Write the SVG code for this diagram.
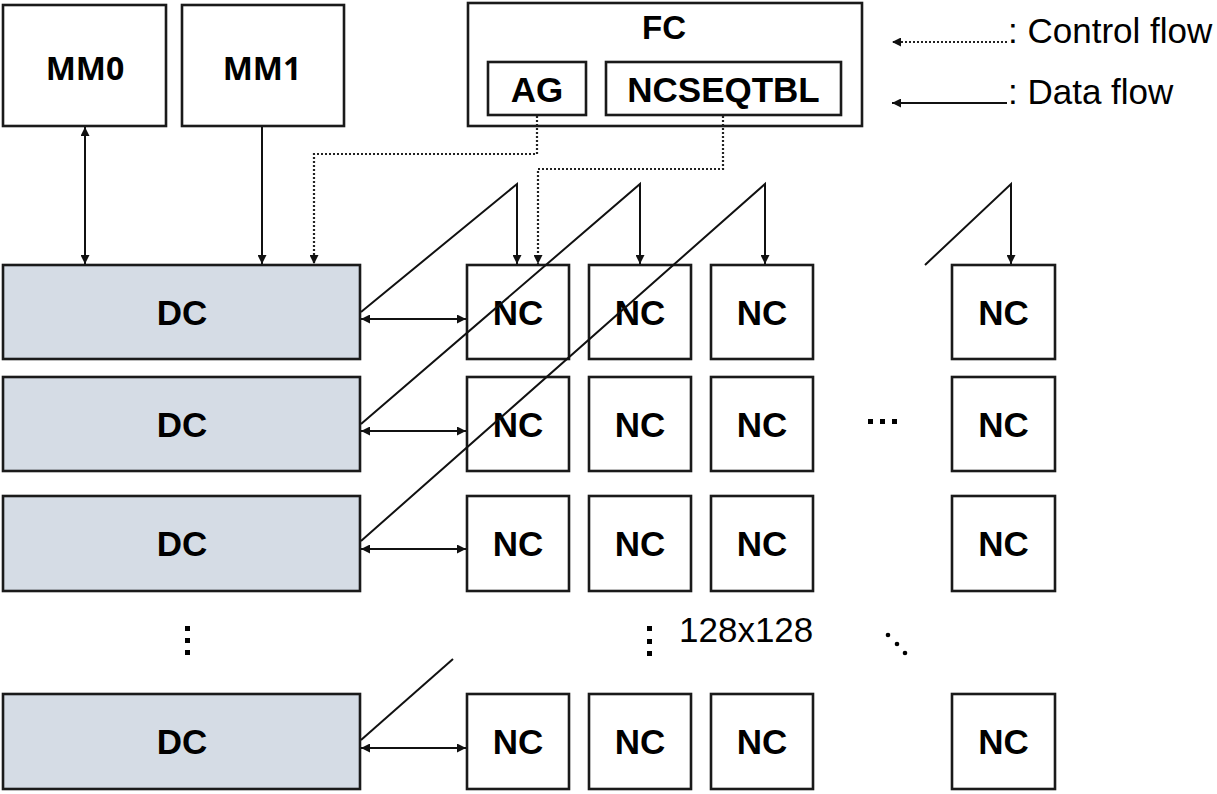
<svg xmlns="http://www.w3.org/2000/svg" width="1217" height="794" viewBox="0 0 1217 794">
<defs>
<marker id="ah" viewBox="0 0 10 10" refX="10" refY="5" markerWidth="10" markerHeight="9" markerUnits="userSpaceOnUse" orient="auto-start-reverse">
<path d="M0,0 L10,5 L0,10 z" fill="#111"/>
</marker>
</defs>
<style>
.box{fill:#fff;stroke:#1a1a1a;stroke-width:2.6}
.dc{fill:#d5dce5;stroke:#1a1a1a;stroke-width:2.6}
.lbl{font-family:"Liberation Sans",Arial,sans-serif;font-weight:bold;font-size:35px;fill:#000;text-anchor:middle}
.mm{font-family:"Open Sans","Liberation Sans",sans-serif;font-weight:bold;font-size:32px;fill:#000;text-anchor:middle}
.reg{font-family:"Liberation Sans",Arial,sans-serif;font-size:35px;fill:#000}
.ln{fill:none;stroke:#111;stroke-width:2}
.ar{fill:none;stroke:#111;stroke-width:2;marker-end:url(#ah)}
.bi{fill:none;stroke:#111;stroke-width:2;marker-start:url(#ah);marker-end:url(#ah)}
.dot{fill:none;stroke:#222;stroke-width:2.2;stroke-dasharray:2 2;marker-end:url(#ah)}
.d{fill:#000}
</style>
<rect width="1217" height="794" fill="#fff"/>

<g id="MM0"><rect class="box" x="3" y="5" width="163" height="121"/><text class="mm" x="85" y="80">MM0</text></g>
<g id="MM1"><rect class="box" x="182" y="5" width="162" height="121"/><text class="mm" x="262" y="80">MM1</text></g>
<g id="FC"><rect class="box" x="468" y="3" width="394" height="123"/><text class="lbl" x="664" y="39" style="font-size:33px">FC</text></g>
<g id="AG"><rect class="box" x="488" y="62" width="98" height="53"/><text class="lbl" x="537" y="102">AG</text></g>
<g id="NCSEQTBL"><rect class="box" x="606" y="62" width="235" height="53"/><text class="lbl" x="723.5" y="102">NCSEQTBL</text></g>

<g id="DC0"><rect class="dc" x="3" y="265" width="357" height="94"/><text class="lbl" x="182" y="325">DC</text></g>
<g id="DC1"><rect class="dc" x="3" y="377" width="357" height="94"/><text class="lbl" x="182" y="437">DC</text></g>
<g id="DC2"><rect class="dc" x="3" y="496" width="357" height="95"/><text class="lbl" x="182" y="556">DC</text></g>
<g id="DCn"><rect class="dc" x="3" y="694" width="357" height="95"/><text class="lbl" x="182" y="754">DC</text></g>

<g id="NC00"><rect class="box" x="467" y="265" width="102" height="94"/><text class="lbl" x="518" y="325">NC</text></g>
<g id="NC01"><rect class="box" x="589" y="265" width="102" height="94"/><text class="lbl" x="640" y="325">NC</text></g>
<g id="NC02"><rect class="box" x="711" y="265" width="102" height="94"/><text class="lbl" x="762" y="325">NC</text></g>
<g id="NC0n"><rect class="box" x="952" y="265" width="103" height="94"/><text class="lbl" x="1003.5" y="325">NC</text></g>

<g id="NC10"><rect class="box" x="467" y="377" width="102" height="94"/><text class="lbl" x="518" y="437">NC</text></g>
<g id="NC11"><rect class="box" x="589" y="377" width="102" height="94"/><text class="lbl" x="640" y="437">NC</text></g>
<g id="NC12"><rect class="box" x="711" y="377" width="102" height="94"/><text class="lbl" x="762" y="437">NC</text></g>
<g id="NC1n"><rect class="box" x="952" y="377" width="103" height="94"/><text class="lbl" x="1003.5" y="437">NC</text></g>

<g id="NC20"><rect class="box" x="467" y="496" width="102" height="95"/><text class="lbl" x="518" y="556">NC</text></g>
<g id="NC21"><rect class="box" x="589" y="496" width="102" height="95"/><text class="lbl" x="640" y="556">NC</text></g>
<g id="NC22"><rect class="box" x="711" y="496" width="102" height="95"/><text class="lbl" x="762" y="556">NC</text></g>
<g id="NC2n"><rect class="box" x="952" y="496" width="103" height="95"/><text class="lbl" x="1003.5" y="556">NC</text></g>

<g id="NCn0"><rect class="box" x="467" y="694" width="102" height="95"/><text class="lbl" x="518" y="754">NC</text></g>
<g id="NCn1"><rect class="box" x="589" y="694" width="102" height="95"/><text class="lbl" x="640" y="754">NC</text></g>
<g id="NCn2"><rect class="box" x="711" y="694" width="102" height="95"/><text class="lbl" x="762" y="754">NC</text></g>
<g id="NCnn"><rect class="box" x="952" y="694" width="103" height="95"/><text class="lbl" x="1003.5" y="754">NC</text></g>

<g id="connectors">
<line class="bi" x1="85" y1="127" x2="85" y2="264"/>
<line class="ar" x1="262" y1="127" x2="262" y2="264"/>
<polyline class="dot" points="537,116 537,154 314,154 314,264"/>
<polyline class="dot" points="723,116 723,169 538,169 538,264"/>

<line class="bi" x1="361" y1="319" x2="466" y2="319"/>
<line class="bi" x1="361" y1="431" x2="466" y2="431"/>
<line class="bi" x1="361" y1="549" x2="466" y2="549"/>
<line class="bi" x1="361" y1="748" x2="466" y2="748"/>

<polyline class="ar" points="361,312 517,184 517,264"/>
<polyline class="ar" points="361,424 640,184 640,264"/>
<polyline class="ar" points="361,541 765,184 765,264"/>
<polyline class="ar" points="925,265 1011,184 1011,264"/>
<line class="ln" x1="361" y1="740" x2="453" y2="659"/>
</g>

<g id="legend">
<line class="dot" x1="1007" y1="42" x2="892" y2="42"/>
<text class="reg" x="1008" y="43">: Control flow</text>
<line class="ar" x1="1007" y1="103" x2="892" y2="103"/>
<text class="reg" x="1008" y="104">: Data flow</text>
</g>

<g id="dots">
<rect class="d" x="185" y="626" width="5" height="5"/>
<rect class="d" x="185" y="638" width="5" height="5"/>
<rect class="d" x="185" y="650" width="5" height="5"/>
<rect class="d" x="647" y="626" width="5" height="5"/>
<rect class="d" x="647" y="639" width="5" height="5"/>
<rect class="d" x="647" y="651" width="5" height="5"/>
<rect class="d" x="868" y="419" width="5" height="5"/>
<rect class="d" x="880" y="419" width="5" height="5"/>
<rect class="d" x="892" y="419" width="5" height="5"/>
<circle class="d" cx="888" cy="635" r="2.3"/>
<circle class="d" cx="897" cy="644" r="2.3"/>
<circle class="d" cx="905" cy="653" r="2.3"/>
<text class="reg" x="679" y="642">128x128</text>
</g>
</svg>
